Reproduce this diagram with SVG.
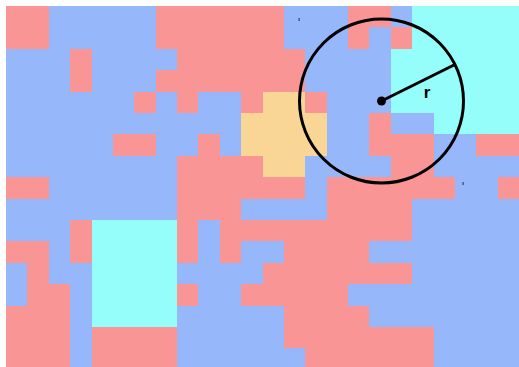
<svg xmlns="http://www.w3.org/2000/svg" width="519" height="367" viewBox="0 0 519 367">
<style>
.r{fill:#F99595}.b{fill:#96B8FA}.c{fill:#96FEFA}.y{fill:#FAD696}
.grid rect{shape-rendering:crispEdges}
.ln{stroke:#000;stroke-width:3;fill:none}
.lbl{font-family:"Liberation Sans",Arial,sans-serif;font-size:17px;font-weight:bold;fill:#000}
</style>
<rect width="519" height="367" fill="#fff"/>
<g id="grid" class="grid" transform="translate(6 6) scale(21.375 21.4)">
<rect class="b" x="0" y="0" width="24" height="17"/>
<!-- row 0 -->
<rect class="r" x="0" y="0" width="2" height="2"/>
<rect class="r" x="7" y="0" width="6" height="2"/>
<rect class="r" x="16" y="0" width="2" height="1"/>
<rect class="r" x="16" y="1" width="1" height="1"/>
<rect class="r" x="18" y="1" width="1" height="1"/>
<rect class="c" x="19" y="0" width="5" height="2"/>
<!-- rows 2-4 -->
<rect class="r" x="3" y="2" width="1" height="2"/>
<rect class="r" x="8" y="2" width="6" height="2"/>
<rect class="r" x="7" y="3" width="1" height="1"/>
<rect class="c" x="18" y="2" width="6" height="3"/>
<rect class="r" x="6" y="4" width="1" height="1"/>
<rect class="r" x="8" y="4" width="1" height="1"/>
<rect class="r" x="11" y="4" width="1" height="1"/>
<rect class="y" x="12" y="4" width="2" height="1"/>
<rect class="r" x="14" y="4" width="1" height="1"/>
<!-- rows 5-7 -->
<rect class="y" x="11" y="5" width="4" height="2"/>
<rect class="r" x="17" y="5" width="1" height="2"/>
<rect class="c" x="20" y="5" width="4" height="1"/>
<rect class="r" x="5" y="6" width="2" height="1"/>
<rect class="r" x="9" y="6" width="1" height="1"/>
<rect class="r" x="18" y="6" width="2" height="2"/>
<rect class="r" x="22" y="6" width="2" height="1"/>
<rect class="r" x="8" y="7" width="4" height="1"/>
<rect class="y" x="12" y="7" width="2" height="1"/>
<!-- rows 8-9 -->
<rect class="r" x="0" y="8" width="2" height="1"/>
<rect class="r" x="8" y="8" width="6" height="1"/>
<rect class="r" x="15" y="8" width="6" height="1"/>
<rect class="r" x="23" y="8" width="1" height="1"/>
<rect class="r" x="8" y="9" width="3" height="1"/>
<rect class="r" x="15" y="9" width="4" height="1"/>
<!-- rows 10-16 -->
<rect class="r" x="3" y="10" width="1" height="2"/>
<rect class="c" x="4" y="10" width="4" height="5"/>
<rect class="r" x="8" y="10" width="1" height="2"/>
<rect class="r" x="10" y="10" width="9" height="1"/>
<rect class="r" x="0" y="11" width="2" height="1"/>
<rect class="r" x="10" y="11" width="1" height="1"/>
<rect class="r" x="13" y="11" width="4" height="1"/>
<rect class="r" x="1" y="12" width="1" height="1"/>
<rect class="r" x="12" y="12" width="7" height="1"/>
<rect class="r" x="1" y="13" width="2" height="1"/>
<rect class="r" x="8" y="13" width="1" height="1"/>
<rect class="r" x="11" y="13" width="5" height="1"/>
<rect class="r" x="0" y="14" width="3" height="3"/>
<rect class="r" x="13" y="14" width="4" height="1"/>
<rect class="r" x="4" y="15" width="4" height="2"/>
<rect class="r" x="13" y="15" width="7" height="1"/>
<rect class="r" x="14" y="16" width="6" height="1"/>
</g>
<g id="marks" fill="#334466">
<rect x="298.5" y="18" width="1.2" height="3"/>
<rect x="462.5" y="182" width="1.2" height="3"/>
</g>
<g id="radius-figure">
<circle class="ln" cx="381.5" cy="101" r="82"/>
<line class="ln" x1="381.5" y1="101" x2="455" y2="64.5"/>
<circle cx="381.5" cy="101" r="4.5" fill="#000"/>
<text class="lbl" x="427" y="98" text-anchor="middle">r</text>
</g>
</svg>
